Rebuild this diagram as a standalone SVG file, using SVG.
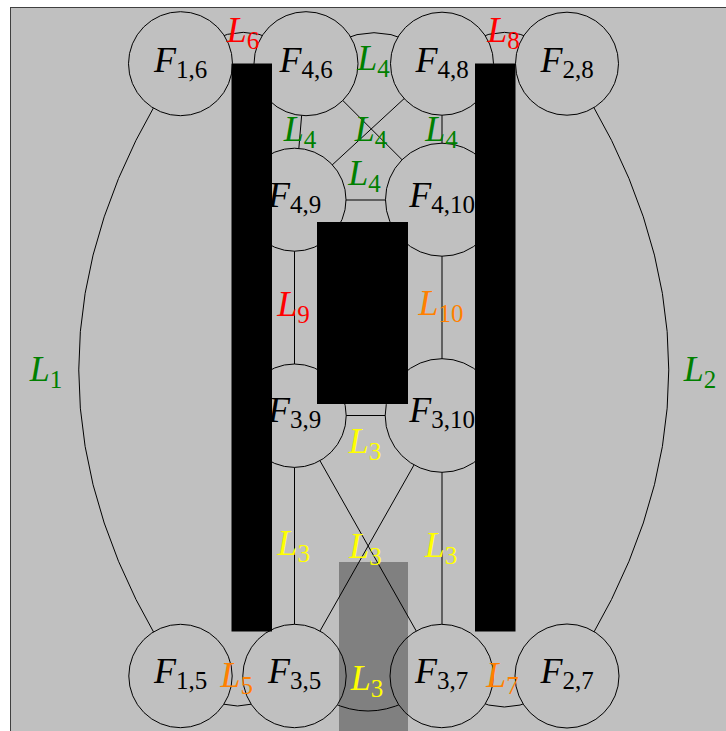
<svg xmlns="http://www.w3.org/2000/svg" width="726" height="731" viewBox="0 0 726 731">
<style>
.edge{fill:none;stroke:#000;stroke-width:1}
.node circle{fill:#c0c0c0;stroke:#000;stroke-width:1}
.nl{font-family:"Liberation Serif","Times New Roman",serif;font-size:36px;font-style:italic;fill:#000;text-anchor:middle}
.el{font-family:"Liberation Serif","Times New Roman",serif;font-size:36px;font-style:italic;text-anchor:middle}
.sub{font-size:25px;font-style:normal}
.g{fill:#008000}.r{fill:#ff0000}.y{fill:#ffff00}.o{fill:#ff8000}
.bar{fill:#000}
</style>
<rect x="0" y="0" width="726" height="731" fill="#ffffff"/>
<rect x="10.5" y="7.5" width="800" height="800" fill="#c0c0c0" stroke="#404040" stroke-width="1"/>
<g id="connectors">
<path class="edge" d="M180.5,63.7 Q-23,370 180.5,676"/>
<path class="edge" d="M567,63.7 Q770.5,370 567,676"/>
<path class="edge" d="M180.5,63.7 Q243.25,1 306,63.7"/>
<path class="edge" d="M306,63.7 Q374,1.7 442,63.7"/>
<path class="edge" d="M442,63.7 Q504.5,1 567,63.7"/>
<path class="edge" d="M180.5,676 Q237.5,736 294.5,676"/>
<path class="edge" d="M294.5,676 Q368,746 441.7,676"/>
<path class="edge" d="M441.7,676 Q504.4,738 567,676"/>
<line class="edge" x1="306" y1="63.7" x2="294.5" y2="199.7"/>
<line class="edge" x1="306" y1="63.7" x2="442" y2="199.7"/>
<line class="edge" x1="442" y1="63.7" x2="294.5" y2="199.7"/>
<line class="edge" x1="442" y1="63.7" x2="442" y2="199.7"/>
<line class="edge" x1="294.5" y1="200" x2="442" y2="200"/>
<line class="edge" x1="294.5" y1="199.7" x2="294.5" y2="415.7"/>
<line class="edge" x1="442" y1="199.7" x2="442" y2="415.5"/>
<line class="edge" x1="294.5" y1="415.5" x2="442" y2="415.5"/>
<line class="edge" x1="294.5" y1="415.7" x2="294.5" y2="676"/>
<line class="edge" x1="294.5" y1="415.7" x2="441.7" y2="676"/>
<line class="edge" x1="442" y1="415.5" x2="294.5" y2="676"/>
<line class="edge" x1="442" y1="415.5" x2="442" y2="676"/>
</g>
<g id="F16" class="node"><circle cx="180.5" cy="63.7" r="52"/><text class="nl" x="180.5" y="71.5">F<tspan class="sub" dy="6">1,6</tspan></text></g>
<g id="F46" class="node"><circle cx="306" cy="63.7" r="52"/><text class="nl" x="306" y="71.5">F<tspan class="sub" dy="6">4,6</tspan></text></g>
<g id="F48" class="node"><circle cx="442" cy="63.7" r="51.5"/><text class="nl" x="442" y="71.5">F<tspan class="sub" dy="6">4,8</tspan></text></g>
<g id="F28" class="node"><circle cx="567" cy="63.7" r="51.5"/><text class="nl" x="567" y="71.5">F<tspan class="sub" dy="6">2,8</tspan></text></g>
<g id="F49" class="node"><circle cx="294.5" cy="199.7" r="51.5"/><text class="nl" x="294.5" y="207">F<tspan class="sub" dy="6">4,9</tspan></text></g>
<g id="F410" class="node"><circle cx="442" cy="199.7" r="56.5"/><text class="nl" x="442" y="207">F<tspan class="sub" dy="6">4,10</tspan></text></g>
<g id="F39" class="node"><circle cx="294.5" cy="415.7" r="51.7"/><text class="nl" x="294.5" y="422">F<tspan class="sub" dy="6">3,9</tspan></text></g>
<g id="F310" class="node"><circle cx="442" cy="415.5" r="56.8"/><text class="nl" x="442" y="422">F<tspan class="sub" dy="6">3,10</tspan></text></g>
<g id="F15" class="node"><circle cx="180.5" cy="676" r="51.7"/><text class="nl" x="180.5" y="682.5">F<tspan class="sub" dy="6">1,5</tspan></text></g>
<g id="F35" class="node"><circle cx="294.5" cy="676" r="51.7"/><text class="nl" x="294.5" y="682.5">F<tspan class="sub" dy="6">3,5</tspan></text></g>
<g id="F37" class="node"><circle cx="441.7" cy="676" r="51.7"/><text class="nl" x="441.7" y="682.5">F<tspan class="sub" dy="6">3,7</tspan></text></g>
<g id="F27" class="node"><circle cx="567" cy="676" r="52"/><text class="nl" x="567" y="682.5">F<tspan class="sub" dy="6">2,7</tspan></text></g>
<g id="obstacles">
<rect class="bar" x="231.5" y="63.5" width="40.5" height="568"/>
<rect class="bar" x="475" y="63.5" width="40.5" height="568"/>
<rect class="bar" x="317" y="222" width="91" height="182"/>
<rect x="339" y="562" width="69" height="169" fill="#000" fill-opacity="0.333"/>
</g>
<g id="edge-labels">
<text class="el g" x="46" y="381">L<tspan class="sub" dy="7">1</tspan></text>
<text class="el g" x="700" y="381">L<tspan class="sub" dy="7">2</tspan></text>
<text class="el r" x="243" y="42">L<tspan class="sub" dy="7">6</tspan></text>
<text class="el r" x="503.5" y="42">L<tspan class="sub" dy="7">8</tspan></text>
<text class="el g" x="373.5" y="70">L<tspan class="sub" dy="7">4</tspan></text>
<text class="el g" x="300" y="141">L<tspan class="sub" dy="7">4</tspan></text>
<text class="el g" x="371" y="141">L<tspan class="sub" dy="7">4</tspan></text>
<text class="el g" x="441.5" y="141">L<tspan class="sub" dy="7">4</tspan></text>
<text class="el g" x="364.5" y="185">L<tspan class="sub" dy="7">4</tspan></text>
<text class="el r" x="293.5" y="316">L<tspan class="sub" dy="7">9</tspan></text>
<text class="el o" x="441" y="315">L<tspan class="sub" dy="7">10</tspan></text>
<text class="el y" x="365" y="453">L<tspan class="sub" dy="7">3</tspan></text>
<text class="el y" x="293.7" y="555">L<tspan class="sub" dy="7">3</tspan></text>
<text class="el y" x="365.5" y="558">L<tspan class="sub" dy="7">3</tspan></text>
<text class="el y" x="441" y="557">L<tspan class="sub" dy="7">3</tspan></text>
<text class="el y" x="367" y="690">L<tspan class="sub" dy="7">3</tspan></text>
<text class="el o" x="236.7" y="687">L<tspan class="sub" dy="7">5</tspan></text>
<text class="el o" x="502.5" y="687">L<tspan class="sub" dy="7">7</tspan></text>
</g>
</svg>
